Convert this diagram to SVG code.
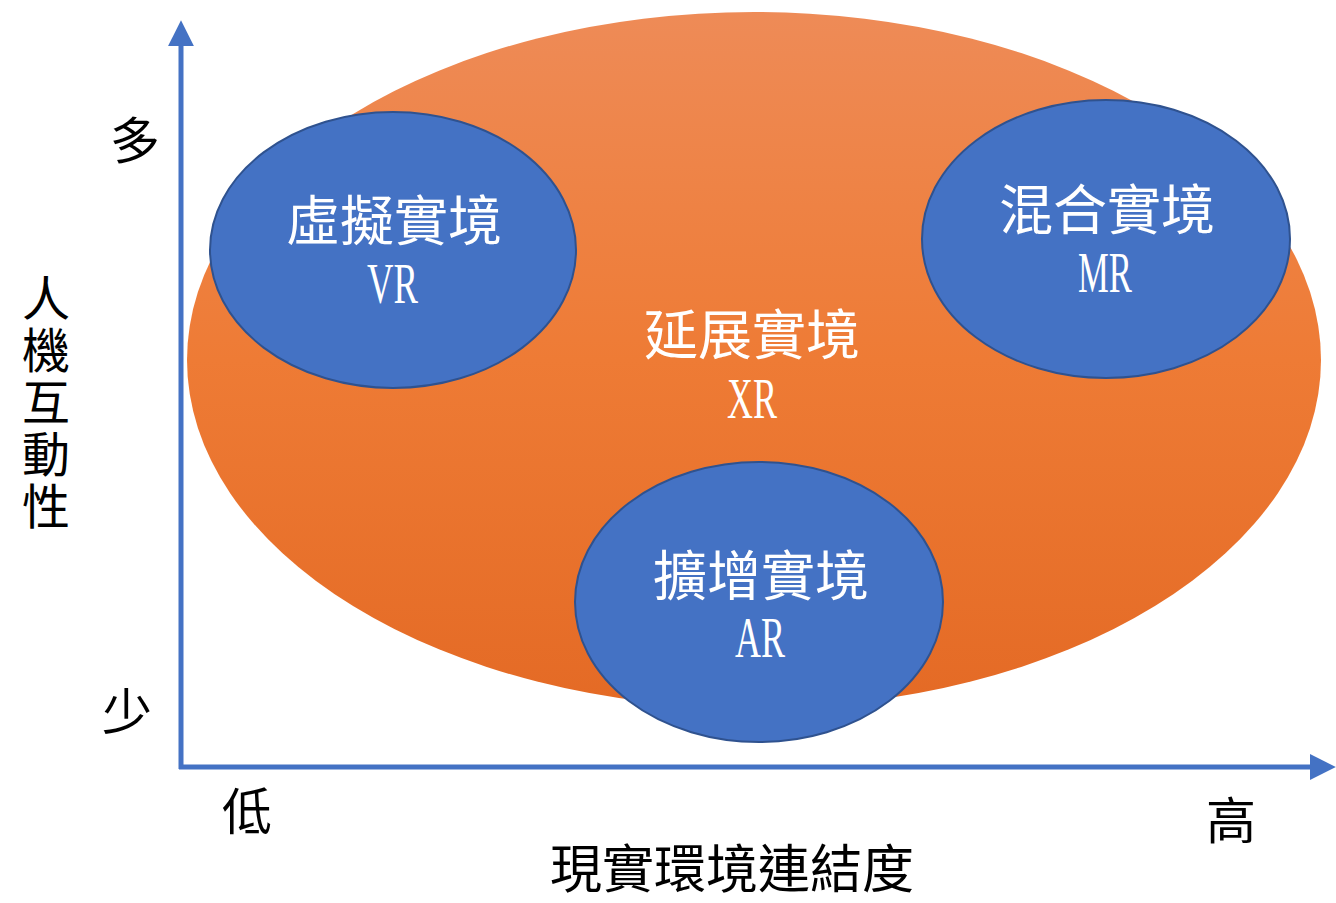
<svg xmlns="http://www.w3.org/2000/svg" width="1336" height="903" viewBox="0 0 1336 903">
<defs>
<linearGradient id="og" x1="0" y1="0" x2="0" y2="1">
<stop offset="0" stop-color="#EE8B57"/>
<stop offset="0.5" stop-color="#EE7B35"/>
<stop offset="1" stop-color="#E46A25"/>
</linearGradient>
<marker id="ah" markerUnits="userSpaceOnUse" markerWidth="26" markerHeight="26" viewBox="0 0 24 24" refX="2" refY="12" orient="auto">
<polygon points="0,0 24,12 0,24" fill="#4472C4"/>
</marker>
<style>
.ax{stroke:#4472C4;stroke-width:5;fill:none}
.bc{fill:#4472C4;stroke:#2F528F;stroke-width:2}
.wt{fill:#fff;font-family:"Noto Sans CJK TC","Noto Sans CJK SC",sans-serif;font-size:54px;text-anchor:middle}
.wl{fill:#fff;font-family:"Liberation Serif",serif;font-size:57px}
.bt{fill:#000;font-family:"Noto Sans CJK TC","Noto Sans CJK SC",sans-serif;font-size:50px;text-anchor:middle}
.vt{fill:#000;font-family:"Noto Sans CJK TC","Noto Sans CJK SC",sans-serif;font-size:48px;writing-mode:vertical-rl;letter-spacing:4px}
</style>
</defs>
<rect width="1336" height="903" fill="#fff"/>
<g id="xr">
<ellipse cx="754" cy="360" rx="567" ry="348" fill="url(#og)"/>
<text class="wt" x="752" y="355">延展實境</text>
<text class="wl" x="727" y="418" textLength="50" lengthAdjust="spacingAndGlyphs">XR</text>
</g>
<g id="connectors">
<line class="ax" x1="181" y1="769" x2="181" y2="44" marker-end="url(#ah)"/>
<line class="ax" x1="179" y1="767" x2="1312" y2="767" marker-end="url(#ah)"/>
</g>
<g id="vr">
<ellipse class="bc" cx="393" cy="250" rx="183" ry="138"/>
<text class="wt" x="394" y="241">虛擬實境</text>
<text class="wl" x="367" y="303" textLength="51" lengthAdjust="spacingAndGlyphs">VR</text>
</g>
<g id="mr">
<ellipse class="bc" cx="1106" cy="239" rx="184" ry="139"/>
<text class="wt" x="1107" y="230">混合實境</text>
<text class="wl" x="1078" y="292" textLength="54" lengthAdjust="spacingAndGlyphs">MR</text>
</g>
<g id="ar">
<ellipse class="bc" cx="759" cy="602" rx="184" ry="140"/>
<text class="wt" x="761" y="596">擴增實境</text>
<text class="wl" x="735" y="657" textLength="50" lengthAdjust="spacingAndGlyphs">AR</text>
</g>
<g id="labels">
<text class="bt" x="135" y="159">多</text>
<text class="bt" x="127" y="730">少</text>
<text class="bt" x="247" y="830">低</text>
<text class="bt" x="1231" y="839">高</text>
<text class="vt" x="46" y="274">人機互動性</text>
<text class="bt" x="732" y="888" style="font-size:52px">現實環境連結度</text>
</g>
</svg>
